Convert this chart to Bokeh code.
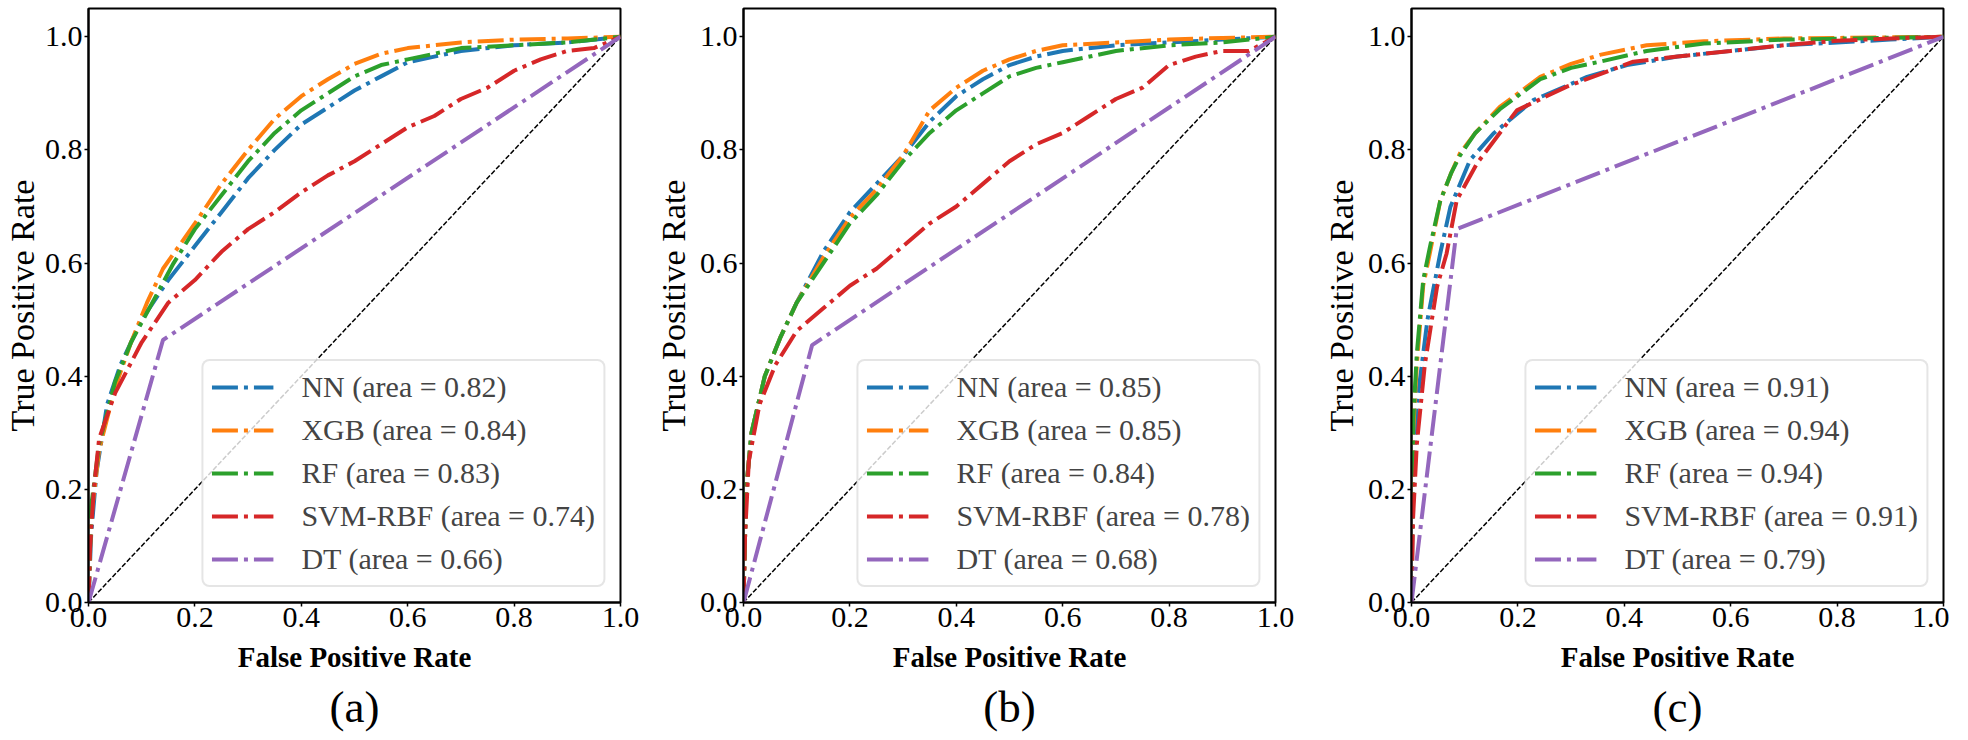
from bokeh.plotting import figure
from bokeh.layouts import row
from bokeh.models import Range1d, FixedTicker, Legend, LegendItem, Title, NumeralTickFormatter
from bokeh.embed import file_html
from bokeh.resources import INLINE

# ---------------- data ----------------
models = ["NN", "XGB", "RF", "SVM-RBF", "DT"]
colors = ["#1f77b4", "#ff7f0e", "#2ca02c", "#d62728", "#9467bd"]
captions = ["(a)", "(b)", "(c)"]
ticks = [0.0, 0.2, 0.4, 0.6, 0.8, 1.0]
tick_labels = ["0.0", "0.2", "0.4", "0.6", "0.8", "1.0"]
chance = [0.0, 1.0]

auc_a = [0.82, 0.84, 0.83, 0.74, 0.66]
auc_b = [0.85, 0.85, 0.84, 0.78, 0.68]
auc_c = [0.91, 0.94, 0.94, 0.91, 0.79]

# panel (a)
fpr_nn_a = [0.0, 0.005, 0.015, 0.035, 0.06, 0.1, 0.15, 0.2, 0.25, 0.3, 0.35, 0.4, 0.45, 0.5, 0.55, 0.6, 0.65, 0.7, 0.8, 0.9, 1.0]
tpr_nn_a = [0.0, 0.12, 0.23, 0.35, 0.42, 0.5, 0.57, 0.63, 0.69, 0.75, 0.8, 0.845, 0.875, 0.905, 0.93, 0.955, 0.965, 0.975, 0.985, 0.99, 1.0]
fpr_xgb_a = [0.0, 0.005, 0.02, 0.05, 0.08, 0.11, 0.14, 0.2, 0.25, 0.3, 0.35, 0.4, 0.45, 0.5, 0.55, 0.6, 0.7, 0.8, 0.9, 1.0]
tpr_xgb_a = [0.0, 0.15, 0.27, 0.38, 0.46, 0.53, 0.59, 0.67, 0.74, 0.8, 0.855, 0.895, 0.925, 0.952, 0.97, 0.98, 0.99, 0.995, 0.997, 1.0]
fpr_rf_a = [0.0, 0.005, 0.02, 0.05, 0.08, 0.12, 0.16, 0.2, 0.25, 0.3, 0.35, 0.4, 0.45, 0.5, 0.55, 0.6, 0.7, 0.8, 0.9, 1.0]
tpr_rf_a = [0.0, 0.17, 0.28, 0.39, 0.46, 0.53, 0.6, 0.66, 0.72, 0.78, 0.83, 0.87, 0.9, 0.93, 0.95, 0.96, 0.98, 0.985, 0.99, 1.0]
fpr_svm_a = [0.0, 0.003, 0.01, 0.02, 0.05, 0.1, 0.15, 0.2, 0.25, 0.3, 0.35, 0.4, 0.45, 0.5, 0.55, 0.6, 0.65, 0.7, 0.75, 0.8, 0.85, 0.9, 0.95, 1.0]
tpr_svm_a = [0.0, 0.1, 0.2, 0.29, 0.37, 0.46, 0.53, 0.57, 0.62, 0.66, 0.69, 0.725, 0.755, 0.78, 0.81, 0.84, 0.86, 0.89, 0.91, 0.94, 0.96, 0.975, 0.98, 1.0]
fpr_dt_a = [0.0, 0.14, 1.0]
tpr_dt_a = [0.0, 0.464, 1.0]

# panel (b)
fpr_nn_b = [0.0, 0.005, 0.015, 0.04, 0.07, 0.1, 0.15, 0.2, 0.25, 0.3, 0.35, 0.4, 0.45, 0.5, 0.55, 0.6, 0.7, 0.8, 0.9, 1.0]
tpr_nn_b = [0.0, 0.2, 0.3, 0.4, 0.47, 0.53, 0.62, 0.69, 0.74, 0.79, 0.85, 0.895, 0.925, 0.95, 0.965, 0.975, 0.985, 0.99, 0.995, 1.0]
fpr_xgb_b = [0.0, 0.005, 0.015, 0.04, 0.07, 0.1, 0.15, 0.2, 0.25, 0.3, 0.35, 0.4, 0.45, 0.5, 0.55, 0.6, 0.7, 0.8, 0.9, 1.0]
tpr_xgb_b = [0.0, 0.2, 0.3, 0.4, 0.47, 0.53, 0.61, 0.68, 0.73, 0.79, 0.87, 0.91, 0.94, 0.96, 0.975, 0.985, 0.99, 0.995, 0.998, 1.0]
fpr_rf_b = [0.0, 0.005, 0.015, 0.04, 0.07, 0.1, 0.15, 0.2, 0.25, 0.3, 0.35, 0.4, 0.45, 0.5, 0.55, 0.6, 0.7, 0.8, 0.9, 1.0]
tpr_rf_b = [0.0, 0.2, 0.3, 0.4, 0.47, 0.53, 0.6, 0.67, 0.72, 0.78, 0.83, 0.87, 0.9, 0.93, 0.945, 0.955, 0.975, 0.985, 0.99, 1.0]
fpr_svm_b = [0.0, 0.003, 0.01, 0.03, 0.06, 0.1, 0.15, 0.2, 0.25, 0.3, 0.35, 0.4, 0.45, 0.5, 0.55, 0.6, 0.65, 0.7, 0.75, 0.8, 0.85, 0.9, 0.95, 1.0]
tpr_svm_b = [0.0, 0.12, 0.25, 0.35, 0.42, 0.48, 0.52, 0.56, 0.59, 0.63, 0.67, 0.7, 0.74, 0.78, 0.81, 0.83, 0.86, 0.89, 0.91, 0.95, 0.965, 0.975, 0.975, 1.0]
fpr_dt_b = [0.0, 0.129, 1.0]
tpr_dt_b = [0.0, 0.455, 1.0]

# panel (c)
fpr_nn_c = [0.0, 0.003, 0.01, 0.03, 0.054, 0.073, 0.11, 0.154, 0.229, 0.33, 0.405, 0.5, 0.6, 0.7, 0.8, 0.9, 1.0]
tpr_nn_c = [0.0, 0.2, 0.35, 0.5, 0.617, 0.699, 0.782, 0.829, 0.888, 0.929, 0.95, 0.965, 0.975, 0.985, 0.99, 0.995, 1.0]
fpr_xgb_c = [0.0, 0.003, 0.01, 0.022, 0.035, 0.054, 0.075, 0.091, 0.12, 0.166, 0.242, 0.3, 0.354, 0.442, 0.55, 0.7, 1.0]
tpr_xgb_c = [0.0, 0.3, 0.42, 0.56, 0.62, 0.71, 0.76, 0.794, 0.83, 0.876, 0.929, 0.952, 0.968, 0.985, 0.992, 0.997, 1.0]
fpr_rf_c = [0.0, 0.003, 0.01, 0.022, 0.035, 0.054, 0.075, 0.091, 0.12, 0.166, 0.242, 0.3, 0.354, 0.442, 0.55, 0.7, 1.0]
tpr_rf_c = [0.0, 0.32, 0.44, 0.57, 0.63, 0.71, 0.76, 0.79, 0.83, 0.872, 0.925, 0.945, 0.956, 0.975, 0.988, 0.995, 1.0]
fpr_svm_c = [0.0, 0.003, 0.01, 0.025, 0.048, 0.066, 0.085, 0.123, 0.198, 0.292, 0.417, 0.5, 0.6, 0.7, 0.8, 0.9, 1.0]
tpr_svm_c = [0.0, 0.15, 0.28, 0.42, 0.558, 0.617, 0.711, 0.776, 0.87, 0.912, 0.956, 0.965, 0.975, 0.985, 0.993, 0.997, 1.0]
fpr_dt_c = [0.0, 0.085, 1.0]
tpr_dt_c = [0.0, 0.66, 1.0]

panels = [
    (captions[0], auc_a, [(fpr_nn_a, tpr_nn_a), (fpr_xgb_a, tpr_xgb_a), (fpr_rf_a, tpr_rf_a), (fpr_svm_a, tpr_svm_a), (fpr_dt_a, tpr_dt_a)]),
    (captions[1], auc_b, [(fpr_nn_b, tpr_nn_b), (fpr_xgb_b, tpr_xgb_b), (fpr_rf_b, tpr_rf_b), (fpr_svm_b, tpr_svm_b), (fpr_dt_b, tpr_dt_b)]),
    (captions[2], auc_c, [(fpr_nn_c, tpr_nn_c), (fpr_xgb_c, tpr_xgb_c), (fpr_rf_c, tpr_rf_c), (fpr_svm_c, tpr_svm_c), (fpr_dt_c, tpr_dt_c)]),
]

# ---------------- layout/style ----------------
FONT = "Liberation Serif"
FRAME_W, FRAME_H = 532, 594
borders = [(88, 31, 1), (92, 44, 5), (92, 6, 5)]  # (left, right, ylabel standoff)


def make_panel(caption, aucs, curves, bl, br, ystand):
    p = figure(frame_width=FRAME_W, frame_height=FRAME_H,
               x_range=Range1d(0, 1.0), y_range=Range1d(0, 1.05),
               output_backend="svg", toolbar_location=None,
               min_border_left=bl, min_border_right=br,
               min_border_top=8, min_border_bottom=136)
    p.grid.visible = False
    p.outline_line_color = "black"
    p.outline_line_width = 2
    p.outline_line_alpha = 1.0

    p.line(chance, chance, line_color="black", line_width=1.5, line_dash="5 2")

    items = []
    for name, col, auc, (fx, ty) in zip(models, colors, aucs, curves):
        r = p.line(fx, ty, line_color=col, line_width=4, line_dash="26 6 4 6")
        items.append(LegendItem(label=f"{name} (area = {auc:.2f})", renderers=[r]))

    leg = Legend(items=items, location="bottom_right")
    leg.label_text_font = FONT
    leg.label_text_font_size = "30px"
    leg.glyph_width = 62
    leg.glyph_height = 36
    leg.label_height = 36
    leg.label_standoff = 28
    leg.spacing = 7
    leg.padding = 8
    leg.margin = 15
    leg.border_line_color = "#cccccc"
    leg.border_line_width = 2
    leg.border_radius = 8
    leg.background_fill_alpha = 0.8
    p.add_layout(leg)

    for ax in (p.xaxis[0], p.yaxis[0]):
        ax.ticker = FixedTicker(ticks=ticks)
        ax.formatter = NumeralTickFormatter(format="0.0")
        ax.major_label_overrides = dict(zip(ticks, tick_labels))
        ax.minor_tick_line_color = None
        ax.major_tick_in = 0
        ax.major_tick_out = 4
        ax.major_tick_line_width = 1.5
        ax.axis_line_width = 2
        ax.axis_line_color = "black"
        ax.major_label_text_font = FONT
        ax.major_label_text_font_size = "30px"
        ax.major_label_text_color = "black"
        ax.axis_label_text_font = FONT
        ax.axis_label_text_color = "black"

    p.xaxis.major_label_standoff = 1
    p.yaxis.major_label_standoff = 2
    p.xaxis.axis_label = "False Positive Rate"
    p.xaxis.axis_label_text_font_style = "bold"
    p.xaxis.axis_label_text_font_size = "29px"
    p.xaxis.axis_label_standoff = 11
    p.yaxis.axis_label = "True Positive Rate"
    p.yaxis.axis_label_text_font_style = "normal"
    p.yaxis.axis_label_text_font_size = "34px"
    p.yaxis.axis_label_standoff = ystand

    p.add_layout(Title(text=caption, align="center", text_font=FONT,
                       text_font_size="45px", text_font_style="normal",
                       text_color="black", standoff=8), "below")
    return p


figs = []
for (cap, aucs, curves), (bl, br, ys) in zip(panels, borders):
    figs.append(make_panel(cap, aucs, curves, bl, br, ys))

layout = row(*figs)
open("out.html", "w").write(file_html(layout, INLINE))
